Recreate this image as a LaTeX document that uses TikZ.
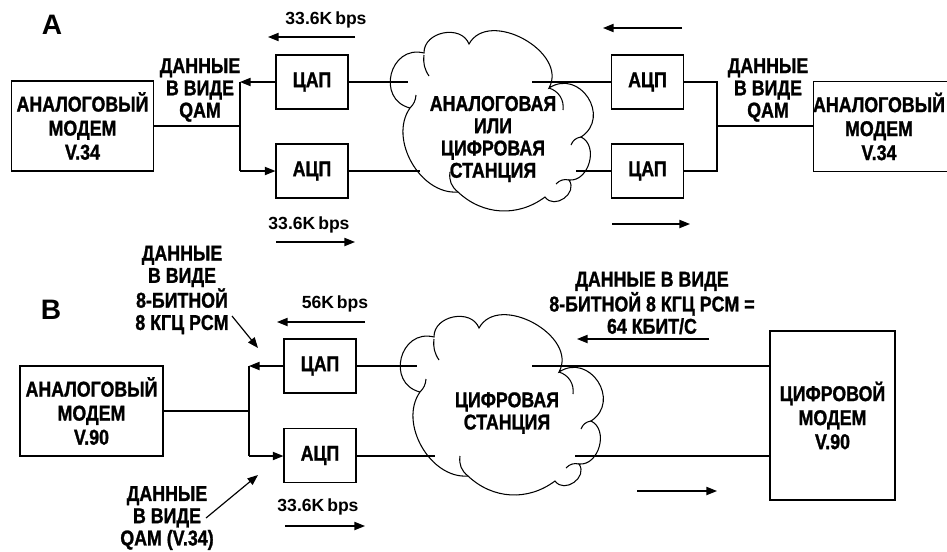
\documentclass[tikz,border=0pt]{standalone}
\usepackage{fontspec}
\setmainfont{Liberation Sans}
\newfontfamily\mainf{Liberation Sans Bold}[FakeStretch=0.83,FakeBold=1.2]
\newfontfamily\bpsf{Liberation Sans Bold}
\usetikzlibrary{arrows.meta}
\newcommand\mycloudpath{%
 (410,108) to[bend left=90,looseness=1.6] (424,53)
 to[bend left=80,looseness=1.2] (469,44)
 to[bend left=90,looseness=1.15] (549,88)
 to[bend left=90,looseness=1.6] (581,137)
 to[bend left=80,looseness=1.15] (569,180)
 to[bend left=90,looseness=1.4] (545,197)
 to[bend left=40] (458,192)
 to[bend left=65] (410,108)}
\newcommand\mycloudinner{%
 (424,55) to[bend right=20] (429,76)
 (549,88) to[bend left=40] (563,110)
 (581,137) to[bend right=30] (571,145)
 (569,180) to[bend right=30] (556,184)
 (458,192) to[bend left=30] (450,172)
 (410,108) to[bend right=20] (416,95)}
\begin{document}
\begin{tikzpicture}[x=0.03cm,y=-0.03cm,
  txt/.style={font=\mainf\fontsize{18.3}{19}\selectfont,align=center,inner sep=0pt},
  box/.style={draw,line width=1pt,inner sep=0pt,align=center,
    font=\mainf\fontsize{18.3}{20.5}\selectfont},
  conv/.style={box,minimum width=2.16cm,minimum height=1.62cm},
  modem/.style={box,minimum width=4.25cm,minimum height=2.7cm},
  bps/.style={font=\bpsf\fontsize{15}{17}\selectfont,inner sep=0pt},
  big/.style={font=\bpsf\fontsize{24}{26}\selectfont,inner sep=0pt},
  conn/.style={line width=1pt},
  arr/.style={conn,-{Triangle[length=9pt,width=7pt]}},
  cloudline/.style={line width=0.9pt}]
\useasboundingbox (0,0) rectangle (947,551);
\clip (0,0) rectangle (947,551);

% ---------------- Part A ----------------
\node[big] (labA) at (52,25) {A};
\node[modem] (modA1) at (82.5,126) {АНАЛОГОВЫЙ\\МОДЕМ\\V.34};
\node[conv] (dacA1) at (312,82) {ЦАП};
\node[conv] (adcA1) at (312,171) {АЦП};
\node[conv] (adcA2) at (647.5,82) {АЦП};
\node[conv] (dacA2) at (647.5,171) {ЦАП};
\node[modem] (modA2) at (884.5,126.5) {};
\node[txt,font=\mainf\fontsize{18.3}{20.5}\selectfont] (modA2t) at (879,126.5) {АНАЛОГОВЫЙ\\МОДЕМ\\V.34};
\node[txt] (qamA1) at (200,90) {ДАННЫЕ\\В ВИДЕ\\QAM};
\node[txt] (qamA2) at (768,90) {ДАННЫЕ\\В ВИДЕ\\QAM};
\node[txt] (stA) at (493,139) {АНАЛОГОВАЯ\\ИЛИ\\ЦИФРОВАЯ\\СТАНЦИЯ};
\node[bps] (bpsA1) at (326,20) {33.6K\,bps};
\node[bps] (bpsA2) at (309,225) {33.6K\,bps};

\coordinate (jA1) at (240,126);
\coordinate (tA1) at (240,82);
\coordinate (bA1) at (240,171);
\coordinate (jA2) at (717,126);
\coordinate (cA1) at (408,82);
\coordinate (cA2) at (420,171);
\coordinate (cA3) at (532,82);
\coordinate (cA4) at (576,171);

\draw[conn] (modA1.east |- jA1) -- (jA1);
\draw[conn] (tA1) -- (bA1);
\draw[arr] (dacA1.west) -- (tA1);
\draw[arr] (bA1) -- (adcA1.west);
\draw[conn] (dacA1.east) -- (cA1);
\draw[conn] (adcA1.east) -- (cA2);
\draw[conn] (cA3) -- (adcA2.west);
\draw[conn] (cA4) -- (dacA2.west);
\draw[conn] (adcA2.east) -| (jA2) |- (dacA2.east);
\draw[conn] (jA2) -- (modA2.west |- jA2);

\coordinate (fA1s) at (355,37);  \coordinate (fA1e) at (268,37);
\coordinate (fA2s) at (276,242); \coordinate (fA2e) at (355,242);
\coordinate (fA3s) at (682,28);  \coordinate (fA3e) at (603,28);
\coordinate (fA4s) at (612,224); \coordinate (fA4e) at (690,224);
\draw[arr] (fA1s) -- (fA1e);
\draw[arr] (fA2s) -- (fA2e);
\draw[arr] (fA3s) -- (fA3e);
\draw[arr] (fA4s) -- (fA4e);

\draw[cloudline] \mycloudpath;
\draw[cloudline] \mycloudinner;

% ---------------- Part B ----------------
\node[big] (labB) at (51,310) {B};
\node[modem,minimum width=4.29cm] (modB1) at (91.5,411) {АНАЛОГОВЫЙ\\МОДЕМ\\V.90};
\node[conv] (dacB1) at (320,366) {ЦАП};
\node[conv] (adcB1) at (320,455.5) {АЦП};
\node[box,minimum width=3.75cm,minimum height=5.07cm] (modB2) at (832.5,415.5) {ЦИФРОВОЙ\\МОДЕМ\\V.90};
\node[txt] (pcmB1) at (182,290) {ДАННЫЕ\\В ВИДЕ\\8-БИТНОЙ\\8 КГЦ PCM};
\node[txt] (qamB1) at (167,518) {ДАННЫЕ\\В ВИДЕ\\QAM (V.34)};
\node[txt] (pcmB2) at (652,303) {ДАННЫЕ В ВИДЕ\\8-БИТНОЙ 8 КГЦ PCM =\\64 КБИТ/С};
\node[txt] (stB) at (507,413) {ЦИФРОВАЯ\\СТАНЦИЯ};
\node[bps] (bpsB1) at (335,304) {56K\,bps};
\node[bps] (bpsB2) at (318,507) {33.6K\,bps};

\coordinate (jB1) at (249,411);
\coordinate (tB1) at (249,366);
\coordinate (bB1) at (249,456);
\coordinate (cB1) at (417,366);
\coordinate (cB2) at (435,456);
\coordinate (cB3) at (532,366);
\coordinate (cB4) at (575,456);

\draw[conn] (modB1.east |- jB1) -- (jB1);
\draw[conn] (tB1) -- (bB1);
\draw[arr] (dacB1.west) -- (tB1);
\draw[arr] (bB1) -- (adcB1.west |- bB1);
\draw[conn] (dacB1.east) -- (cB1);
\draw[conn] (adcB1.east |- cB2) -- (cB2);
\draw[conn] (cB3) -- (modB2.west |- cB3);
\draw[conn] (cB4) -- (modB2.west |- cB4);

\coordinate (fB1s) at (365,322); \coordinate (fB1e) at (277,322);
\coordinate (fB2s) at (285,526); \coordinate (fB2e) at (365,526);
\coordinate (fB3s) at (709,339); \coordinate (fB3e) at (577,339);
\coordinate (fB4s) at (637,491); \coordinate (fB4e) at (717,491);
\draw[arr] (fB1s) -- (fB1e);
\draw[arr] (fB2s) -- (fB2e);
\draw[arr] (fB3s) -- (fB3e);
\draw[arr] (fB4s) -- (fB4e);

\coordinate (dB1s) at (232,316);
\coordinate (dB1e) at (258,348);
\coordinate (dB2s) at (206,518);
\coordinate (dB2e) at (258,475);
\draw[arr] (dB1s) -- (dB1e);
\draw[arr] (dB2s) -- (dB2e);

\begin{scope}[shift={(10,284)}]
\draw[cloudline] \mycloudpath;
\draw[cloudline] \mycloudinner;
\end{scope}
\end{tikzpicture}
\end{document}
